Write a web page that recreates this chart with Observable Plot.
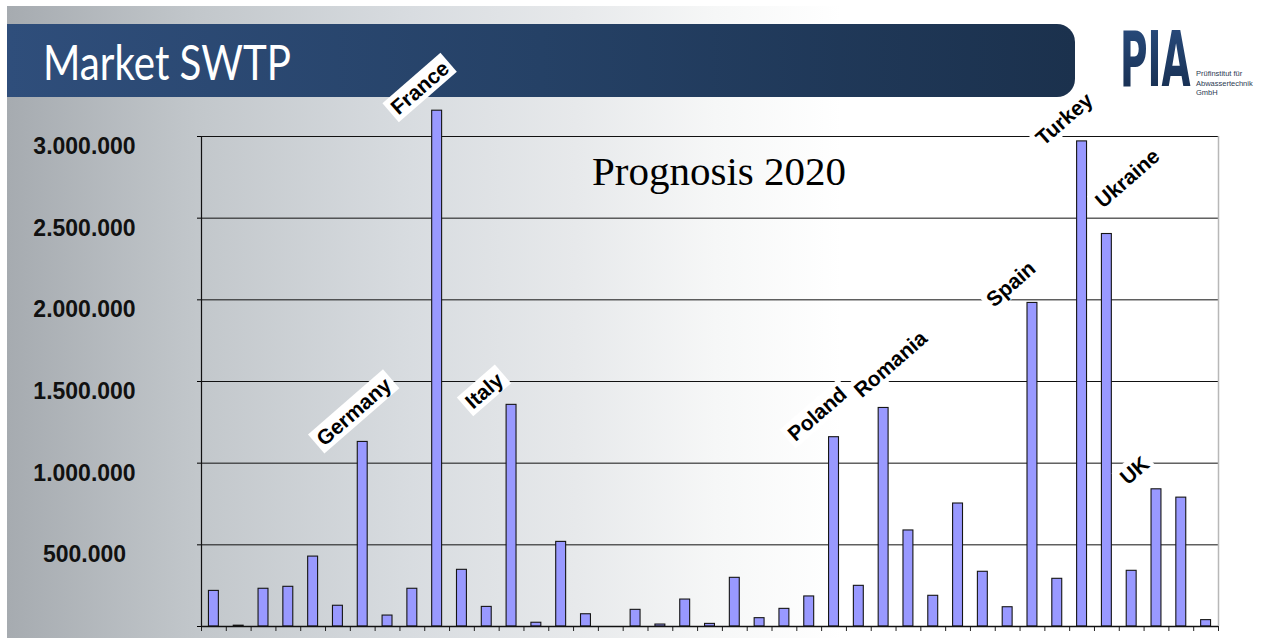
<!DOCTYPE html>
<html>
<head>
<meta charset="utf-8">
<script src="https://cdn.jsdelivr.net/npm/d3@7"></script>
<script src="https://cdn.jsdelivr.net/npm/@observablehq/plot@0.6"></script>
<style>
html, body { margin: 0; padding: 0; width: 1271px; height: 638px; overflow: hidden; background: #fff; }
#deco { position: absolute; left: 0; top: 0; }
#chart { position: absolute; left: 0; top: 0; }
#chart svg { overflow: visible; }
</style>
</head>
<body>
<svg id="deco" width="1271" height="638" xmlns="http://www.w3.org/2000/svg">
  <defs>
    <linearGradient id="bgg" x1="0" y1="0" x2="1" y2="0">
      <stop offset="0" stop-color="#a6abb0"/>
      <stop offset="0.15" stop-color="#c2c7cb"/>
      <stop offset="0.32" stop-color="#d8dce0"/>
      <stop offset="0.45" stop-color="#e7e9eb"/>
      <stop offset="0.56" stop-color="#f6f7f7"/>
      <stop offset="0.66" stop-color="#ffffff"/>
      <stop offset="1" stop-color="#ffffff"/>
    </linearGradient>
    <linearGradient id="bandg" x1="0" y1="0" x2="1" y2="0">
      <stop offset="0" stop-color="#2f4e7b"/>
      <stop offset="0.5" stop-color="#254166"/>
      <stop offset="1" stop-color="#1b314d"/>
    </linearGradient>
    <linearGradient id="logog" x1="0" y1="0" x2="0" y2="1">
      <stop offset="0" stop-color="#2b4f82"/>
      <stop offset="1" stop-color="#142a4a"/>
    </linearGradient>
  </defs>
  <rect x="7" y="6" width="1264" height="632" fill="url(#bgg)"/>
  <path d="M7,24 H1057 A18,18 0 0 1 1075,42 V79 A18,18 0 0 1 1057,97 H7 Z" fill="url(#bandg)"/>
  <text x="43" y="80" fill="#ffffff" font-family="Lato, 'Open Sans', sans-serif" font-size="48" textLength="248" lengthAdjust="spacingAndGlyphs">Market SWTP</text>
  <text x="592" y="185" fill="#000" font-family="'Liberation Serif', 'DejaVu Serif', serif" font-size="41">Prognosis 2020</text>
  <text x="0" y="0" transform="translate(1120,86) scale(0.94,1.9)" fill="url(#logog)" font-family="'DejaVu Sans', sans-serif" font-weight="bold" font-size="40">PIA</text>
  <g font-family="'Liberation Sans', Arial, sans-serif" font-size="7.5" fill="#2b3a52">
    <text x="1196" y="76">Prüfinstitut für</text>
    <text x="1196" y="85.5">Abwassertechnik</text>
    <text x="1196" y="95">GmbH</text>
  </g>
</svg>
<div id="chart"></div>
<script>
// ---- data ----
const countries = ["", "", "", "", "", "", "Germany", "", "", "France",
  "", "", "Italy", "", "", "", "", "", "", "",
  "", "", "", "", "", "Poland", "", "Romania", "", "",
  "", "", "", "Spain", "", "Turkey", "Ukraine", "", "UK", "", ""];
const values = [218000, 5000, 231000, 243000, 428000, 127000, 1130000, 67000, 231000, 3158000,
  347000, 120000, 1357000, 23000, 518000, 75000, 0, 102000, 12000, 165000,
  16000, 298000, 51000, 108000, 184000, 1159000, 249000, 1338000, 588000, 188000,
  753000, 335000, 118000, 1981000, 292000, 2970000, 2403000, 341000, 840000, 789000, 39000];
const yTicks = [500000, 1000000, 1500000, 2000000, 2500000, 3000000];
const yTickLabels = ["500.000", "1.000.000", "1.500.000", "2.000.000", "2.500.000", "3.000.000"];

const rows = values.map((v, i) => ({i, name: countries[i], value: v}));
const idx = d3.range(values.length);

const W = 1271, H = 638, ML = 201, MR = 53, MT = 136, MB = 12;
const step = (W - ML - MR) / values.length;
const lastIdx = values.length - 1;
const ROT = -41;

const chart = Plot.plot({
  width: W, height: H,
  marginLeft: ML, marginRight: MR, marginTop: MT, marginBottom: MB,
  style: {background: "transparent", overflow: "visible"},
  x: {domain: idx, paddingInner: 0.6, paddingOuter: 0.3, axis: null},
  y: {domain: [0, 3000000], axis: "left", ticks: [0, ...yTicks], tickSize: 4, tickFormat: () => "", label: null},
  marks: [
    Plot.ruleY(yTicks, {stroke: "#111", strokeWidth: 1}),
    Plot.ruleX([lastIdx], {x: d => d, dx: step / 2, stroke: "#b8b8b8", strokeWidth: 1.5}),
    Plot.ruleX([0], {x: d => d, dx: -step / 2, stroke: "#111", strokeWidth: 1.2}),
    Plot.ruleX(idx, {x: d => d, y1: 0, y2: 0, dx: -step / 2, insetBottom: -5, stroke: "#222"}),
    Plot.ruleX([lastIdx], {x: d => d, y1: 0, y2: 0, dx: step / 2, insetBottom: -5, stroke: "#222"}),
    Plot.barY(rows, {x: "i", y: "value", fill: "#9999ff", stroke: "#151515", strokeWidth: 1.1}),
    Plot.ruleY([0], {stroke: "#111", strokeWidth: 1.5}),
    Plot.text(yTicks, {y: d => d, text: (d, i) => yTickLabels[i], frameAnchor: "left", dx: -117, dy: 10,
      textAnchor: "middle", fontSize: 23, fontWeight: "bold", fontFamily: "'Liberation Sans', Arial, sans-serif", fill: "#111"}),
    Plot.text(rows.filter(d => d.name), {x: "i", y: "value", text: "name", rotate: ROT, dx: -43, dy: 0,
      textAnchor: "start", fontSize: 21, fontWeight: "bold", fontFamily: "'Liberation Sans', Arial, sans-serif", fill: "#000"})
  ]
});
document.getElementById("chart").appendChild(chart);

// ---- white boxes behind the country labels, nudged along the text direction to avoid collisions ----
function corners(el, b) {
  const m = el.getCTM();
  const pts = [[b.x, b.y], [b.x + b.width, b.y], [b.x + b.width, b.y + b.height], [b.x, b.y + b.height]];
  return pts.map(([x, y]) => [m.a * x + m.c * y + m.e, m.b * x + m.d * y + m.f]);
}
function overlap(P, Q) {
  for (const poly of [P, Q]) {
    for (let i = 0; i < poly.length; i++) {
      const [x1, y1] = poly[i], [x2, y2] = poly[(i + 1) % poly.length];
      const nx = y2 - y1, ny = x1 - x2;
      if (nx === 0 && ny === 0) continue;
      let a0 = Infinity, a1 = -Infinity, b0 = Infinity, b1 = -Infinity;
      for (const [x, y] of P) { const d = x * nx + y * ny; a0 = Math.min(a0, d); a1 = Math.max(a1, d); }
      for (const [x, y] of Q) { const d = x * nx + y * ny; b0 = Math.min(b0, d); b1 = Math.max(b1, d); }
      if (a1 <= b0 || b1 <= a0) return false;
    }
  }
  return true;
}
const barPolys = Array.from(chart.querySelectorAll('g[aria-label="bar"] rect'))
  .map(r => corners(r, r.getBBox()))
  .filter(p => Math.abs(p[2][1] - p[0][1]) > 0.5);
const names = new Set(countries.filter(d => d));
const placed = [];
chart.querySelectorAll("text").forEach(t => {
  if (!names.has(t.textContent)) return;
  const b = t.getBBox();
  const box = {x: b.x - 4, y: b.y - 1, width: b.width + 8, height: b.height + 2};
  const r = document.createElementNS("http://www.w3.org/2000/svg", "rect");
  r.setAttribute("x", box.x);
  r.setAttribute("y", box.y);
  r.setAttribute("width", box.width);
  r.setAttribute("height", box.height);
  r.setAttribute("fill", "#fff");
  t.parentNode.insertBefore(r, t);
  const T0 = t.getAttribute("transform") || "";
  let poly;
  for (let s = 0; s <= 120; s += 1) {
    const T = T0 + ` translate(${s},0)`;
    t.setAttribute("transform", T);
    r.setAttribute("transform", T);
    poly = corners(t, box);
    const hit = barPolys.some(p => overlap(poly, p)) || placed.some(p => overlap(poly, p));
    if (!hit) break;
  }
  placed.push(poly);
});
</script>
</body>
</html>
